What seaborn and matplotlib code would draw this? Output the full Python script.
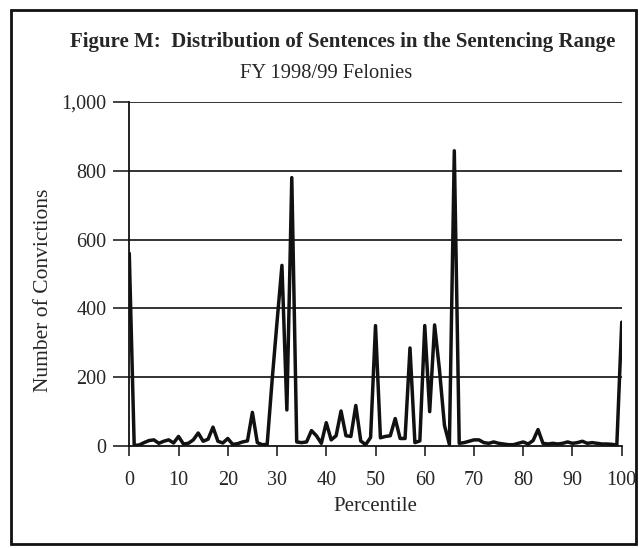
import pandas as pd
import matplotlib.pyplot as plt
import seaborn as sns
from matplotlib.patches import Rectangle

percentile = list(range(101))
convictions = [
    560, 2, 3, 10, 16, 18, 8, 14, 18, 9,
    28, 6, 8, 18, 38, 14, 20, 55, 14, 9,
    22, 5, 7, 12, 15, 98, 10, 4, 5, 190,
    360, 525, 105, 780, 12, 10, 12, 45, 30, 8,
    68, 18, 30, 102, 30, 28, 118, 15, 4, 25,
    350, 24, 28, 30, 80, 22, 22, 285, 10, 15,
    350, 100, 352, 220, 60, 5, 858, 8, 10, 14,
    18, 18, 10, 8, 12, 8, 6, 4, 4, 8,
    12, 6, 16, 48, 8, 6, 8, 6, 8, 12,
    8, 10, 14, 8, 10, 8, 6, 6, 5, 3,
    360,
]
x_ticks = [0, 10, 20, 30, 40, 50, 60, 70, 80, 90, 100]
y_ticks = [0, 200, 400, 600, 800, 1000]
y_labels = ['0', '200', '400', '600', '800', '1,000']

df = pd.DataFrame({'Percentile': percentile, 'Convictions': convictions})

sns.set_theme(style='white')
plt.rcParams['font.family'] = ['Liberation Serif', 'DejaVu Serif']

fig = plt.figure(figsize=(6.39, 5.48), dpi=100)
ax = fig.add_axes([0.2023, 0.186, 0.7707, 0.628])

# horizontal gridlines
for v in y_ticks[1:]:
    ax.axhline(v, color='#222222', lw=1.3, zorder=1)

sns.lineplot(data=df, x='Percentile', y='Convictions', ax=ax, color='#111111',
             lw=2.5, solid_joinstyle='round', zorder=3)

ax.set_xlim(0, 100)
ax.set_ylim(0, 1000)
ax.set_xticks(x_ticks)
ax.set_yticks(y_ticks)
ax.set_yticklabels(y_labels)
ax.tick_params(axis='y', direction='out', length=11.5, width=1.2, pad=5,
               labelsize=14.5, color='#222222', left=True)
ax.tick_params(axis='x', direction='out', length=7, width=1.2, pad=11,
               labelsize=14.5, color='#222222', bottom=True)

for side in ['top', 'right']:
    ax.spines[side].set_visible(False)
for side in ['left', 'bottom']:
    ax.spines[side].set_color('#111111')
    ax.spines[side].set_linewidth(1.3)
ax.spines['left'].set_zorder(4)

ax.set_xlabel('Percentile', fontsize=15, labelpad=5)
ax.set_ylabel('Number of Convictions', fontsize=15.5)
ax.yaxis.set_label_coords(-0.155, 0.453)

fig.text(0.537, 0.923, 'Figure M:  Distribution of Sentences in the Sentencing Range',
         ha='center', va='center', fontsize=15, fontweight='bold')
fig.text(0.51, 0.866, 'FY 1998/99 Felonies', ha='center', va='center', fontsize=14.8)

# scanned frame around the figure
fig.patches.append(Rectangle((11 / 639, 1 - 544 / 548), 625 / 639, 534 / 548,
                             transform=fig.transFigure, fill=False,
                             edgecolor='#111111', lw=2))

fig.savefig('out.png', dpi=100)
